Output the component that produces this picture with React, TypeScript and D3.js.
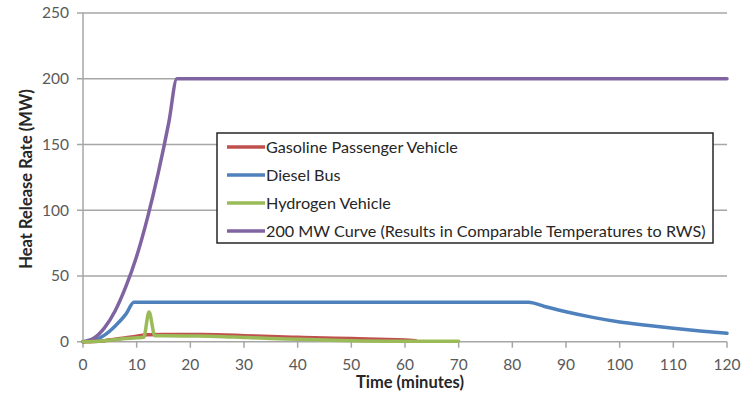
import React from "react";
import * as d3 from "d3";

const yTicks = [0, 50, 100, 150, 200, 250];
const xTicks = [0, 10, 20, 30, 40, 50, 60, 70, 80, 90, 100, 110, 120];

const gasolineTime = [0, 2, 4, 6, 8, 10, 12, 15, 20, 25, 30, 35, 40, 45, 50, 55, 60, 62];
const gasolineHRR = [0, 0.2, 0.8, 1.8, 3, 4.2, 5.2, 5.4, 5.4, 5.3, 4.6, 3.9, 3.3, 2.8, 2.4, 1.8, 1.3, 0.8];

const dieselTime = [0, 2, 4, 6, 8, 9.5, 83, 86, 90, 95, 100, 105, 110, 115, 120];
const dieselHRR = [0, 1, 5, 12, 21, 30, 30, 26.8, 22.8, 18.5, 15, 12.5, 10.2, 8.2, 6.4];

const hydrogenTime = [0, 2, 4, 6, 8, 10, 11.3, 12.3, 13.4, 15, 20, 25, 30, 35, 40, 45, 50, 60, 70];
const hydrogenHRR = [0, 0.2, 0.8, 1.6, 2.4, 3.0, 3.3, 22.5, 4.5, 4.5, 4.3, 4, 3.2, 2.5, 1.9, 1.3, 0.8, 0.4, 0.3];

const curveTime = [0, 2, 4, 6, 8, 10, 12, 14, 16, 17.5, 120];
const curveHRR = [0, 2.6, 10.5, 23.5, 42, 65, 94, 128, 167, 200, 200];

const seriesNames = [
  "Gasoline Passenger Vehicle",
  "Diesel Bus",
  "Hydrogen Vehicle",
  "200 MW Curve (Results in Comparable Temperatures to RWS)",
];
const seriesColors = ["#C0504D", "#4F81BD", "#9BBB59", "#8064A2"];

const FONT = "Lato, 'Open Sans', sans-serif";

export default function App() {
  const W = 750, H = 401;
  const x = d3.scaleLinear().domain([0, 120]).range([83, 727]);
  const y = d3.scaleLinear().domain([0, 250]).range([341.7, 13]);

  const series = [
    { t: gasolineTime, v: gasolineHRR },
    { t: dieselTime, v: dieselHRR },
    { t: hydrogenTime, v: hydrogenHRR },
    { t: curveTime, v: curveHRR },
  ];
  const line = d3
    .line<[number, number]>()
    .x((d) => x(d[0]))
    .y((d) => y(d[1]))
    .curve(d3.curveMonotoneX);

  const drawOrder = [1, 3, 0, 2];
  const legendX = 217, legendY = 133, legendW = 496, legendH = 110;
  const legendRows = [147, 175, 203, 231];

  return (
    <svg
      width={W}
      height={H}
      style={{ position: "absolute", left: 0, top: 0, background: "#fff" }}
    >
      <rect x={0} y={0} width={W} height={H} fill="#fff" />
      {yTicks.map((t) => (
        <g key={t}>
          <line x1={77} x2={727} y1={y(t)} y2={y(t)} stroke="#A6A6A6" strokeWidth={1.5} />
          <text
            x={69}
            y={y(t)}
            dy="0.35em"
            textAnchor="end"
            fontFamily={FONT}
            fontSize={15.5}
            fill="#595959"
          >
            {t}
          </text>
        </g>
      ))}
      <line x1={83} x2={83} y1={y(250)} y2={y(0)} stroke="#A6A6A6" strokeWidth={1.5} />
      {xTicks.map((t) => (
        <g key={t}>
          <line x1={x(t)} x2={x(t)} y1={y(0)} y2={y(0) + 6} stroke="#A6A6A6" strokeWidth={1.5} />
          <text
            x={x(t)}
            y={365}
            dy="0.35em"
            textAnchor="middle"
            fontFamily={FONT}
            fontSize={15.5}
            fill="#595959"
          >
            {t}
          </text>
        </g>
      ))}
      {drawOrder.map((i) => {
        const s = series[i];
        const pts = s.t.map((t, k) => [t, s.v[k]] as [number, number]);
        return (
          <path
            key={i}
            d={line(pts) || ""}
            fill="none"
            stroke={seriesColors[i]}
            strokeWidth={3.5}
            strokeLinejoin="round"
            strokeLinecap="round"
          />
        );
      })}
      <text
        x={410}
        y={382}
        dy="0.35em"
        textAnchor="middle"
        fontFamily={FONT}
        fontWeight="bold"
        fontSize={16.5}
        fill="#262626"
      >
        Time (minutes)
      </text>
      <text
        transform={`translate(26,179) rotate(-90)`}
        dy="0.35em"
        textAnchor="middle"
        fontFamily={FONT}
        fontWeight="bold"
        fontSize={16.5}
        fill="#262626"
      >
        Heat Release Rate (MW)
      </text>
      <rect
        x={legendX}
        y={legendY}
        width={legendW}
        height={legendH}
        fill="#fff"
        stroke="#262626"
        strokeWidth={1.5}
      />
      {seriesNames.map((n, i) => (
        <g key={n}>
          <line
            x1={227}
            x2={265}
            y1={legendRows[i]}
            y2={legendRows[i]}
            stroke={seriesColors[i]}
            strokeWidth={3.5}
          />
          <text
            x={266}
            y={legendRows[i]}
            dy="0.35em"
            fontFamily={FONT}
            fontSize={16.2}
            fill="#262626"
          >
            {n}
          </text>
        </g>
      ))}
    </svg>
  );
}
